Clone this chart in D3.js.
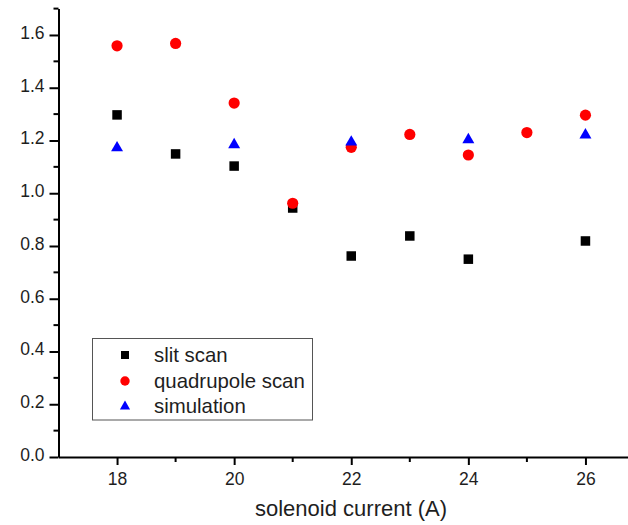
<!DOCTYPE html>
<html>
<head>
<meta charset="utf-8">
<script src="https://cdn.jsdelivr.net/npm/d3@7"></script>
<style>
  body { margin: 0; background: #fff; }
  text { font-family: "Liberation Sans", Arial, sans-serif; }
</style>
</head>
<body>
<script>
// data
const slitX = [18, 19, 20, 21, 22, 23, 24, 26];
const slitY = [1.297, 1.149, 1.103, 0.944, 0.762, 0.838, 0.750, 0.819];

const quadX = [18, 19, 20, 21, 22, 23, 24, 25, 26];
const quadY = [1.559, 1.568, 1.342, 0.962, 1.174, 1.223, 1.145, 1.230, 1.296];

const simX = [18, 20, 22, 24, 26];
const simY = [1.172, 1.184, 1.194, 1.203, 1.221];

const xTicks = [18, 20, 22, 24, 26];
const xMinor = [19, 21, 23, 25];
const yTicks = [0, 0.2, 0.4, 0.6, 0.8, 1.0, 1.2, 1.4, 1.6];
const yMinor = [0.1, 0.3, 0.5, 0.7, 0.9, 1.1, 1.3, 1.5, 1.7];
const seriesNames = ["slit scan", "quadrupole scan", "simulation"];

var width = 628, height = 525;

var svg = d3.select("body").append("svg")
    .attr("width", width)
    .attr("height", height);

var x = d3.scaleLinear().domain([17, 27]).range([58.5, 644]);
var y = d3.scaleLinear().domain([0, 1.7]).range([457, 8.6]);

// x axis
var xAxis = d3.axisBottom(x)
    .tickValues(xTicks)
    .tickFormat(d3.format("d"))
    .tickSizeInner(8)
    .tickSizeOuter(0)
    .tickPadding(8);

var gx = svg.append("g")
    .attr("transform", "translate(0," + y(0) + ")")
    .call(xAxis);

gx.append("g").selectAll("line")
    .data(xMinor)
  .enter().append("line")
    .attr("x1", d => x(d)).attr("x2", d => x(d))
    .attr("y1", 0).attr("y2", 5)
    .attr("stroke", "#000").attr("stroke-width", 2);

// y axis
var yAxis = d3.axisLeft(y)
    .tickValues(yTicks)
    .tickFormat(d3.format(".1f"))
    .tickSizeInner(9)
    .tickSizeOuter(0)
    .tickPadding(5);

var gy = svg.append("g")
    .attr("transform", "translate(" + x(17) + ",0)")
    .call(yAxis);

gy.append("g").selectAll("line")
    .data(yMinor)
  .enter().append("line")
    .attr("x1", 0).attr("x2", -5)
    .attr("y1", d => y(d)).attr("y2", d => y(d))
    .attr("stroke", "#000").attr("stroke-width", 2);

svg.selectAll(".domain").attr("stroke", "#000").attr("stroke-width", 2);
svg.selectAll(".tick line").attr("stroke", "#000").attr("stroke-width", 2);
svg.selectAll(".tick text")
    .attr("font-size", "17.5px")
    .attr("fill", "#1e1e1e")
    .style("font-family", "Liberation Sans, Arial, sans-serif");
gy.selectAll(".tick text").attr("dy", "0.2em");

// axis title
svg.append("text")
    .attr("x", 351)
    .attr("y", 516)
    .attr("text-anchor", "middle")
    .attr("font-size", "22px")
    .attr("fill", "#1e1e1e")
    .text("solenoid current (A)");

// markers
var squareSize = 9.5;
svg.append("g").selectAll("rect")
    .data(slitX.map((d, i) => [d, slitY[i]]))
  .enter().append("rect")
    .attr("x", d => x(d[0]) - squareSize / 2)
    .attr("y", d => y(d[1]) - squareSize / 2)
    .attr("width", squareSize)
    .attr("height", squareSize)
    .attr("fill", "#000");

svg.append("g").selectAll("circle")
    .data(quadX.map((d, i) => [d, quadY[i]]))
  .enter().append("circle")
    .attr("cx", d => x(d[0]))
    .attr("cy", d => y(d[1]))
    .attr("r", 5.6)
    .attr("fill", "#ff0000");

var tri = d3.symbol().type(d3.symbolTriangle).size(62);
svg.append("g").selectAll("path")
    .data(simX.map((d, i) => [d, simY[i]]))
  .enter().append("path")
    .attr("d", tri)
    .attr("transform", d => "translate(" + x(d[0]) + "," + y(d[1]) + ")")
    .attr("fill", "#0000ff");

// legend
var legend = svg.append("g");
legend.append("rect")
    .attr("x", 92.5).attr("y", 338.5)
    .attr("width", 220).attr("height", 81.5)
    .attr("fill", "#fff")
    .attr("stroke", "#555")
    .attr("stroke-width", 1);

var rowY = [355, 381, 406];
seriesNames.forEach((name, i) => {
  var cy = rowY[i];
  if (i === 0) {
    legend.append("rect")
      .attr("x", 125 - 4).attr("y", cy - 4)
      .attr("width", 8).attr("height", 8)
      .attr("fill", "#000");
  } else if (i === 1) {
    legend.append("circle")
      .attr("cx", 125).attr("cy", cy)
      .attr("r", 4.7).attr("fill", "#ff0000");
  } else {
    legend.append("path")
      .attr("d", d3.symbol().type(d3.symbolTriangle).size(45))
      .attr("transform", "translate(125," + (cy + 0.5) + ")")
      .attr("fill", "#0000ff");
  }
  legend.append("text")
    .attr("x", 154)
    .attr("y", cy + 7)
    .attr("font-size", "20.4px")
    .attr("fill", "#1e1e1e")
    .text(name);
});
</script>
</body>
</html>
